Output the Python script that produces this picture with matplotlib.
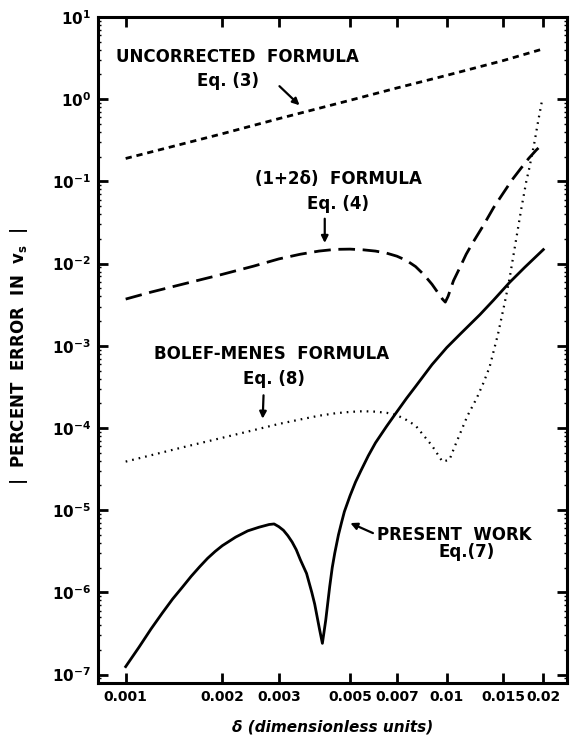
import matplotlib
matplotlib.use("Agg")
import matplotlib.pyplot as plt
from matplotlib.ticker import FixedLocator, FixedFormatter, LogLocator, NullFormatter

plt.rcParams['font.family'] = ['DejaVu Sans']
plt.rcParams['font.weight'] = 'bold'
plt.rcParams['lines.scale_dashes'] = False
plt.rcParams['mathtext.default'] = 'bf'

# ---- data ----
delta_uncorr = [0.001, 0.002, 0.003, 0.005, 0.007, 0.01, 0.015, 0.02]
err_uncorr = [0.19, 0.38, 0.58, 0.97, 1.37, 1.95, 2.95, 4.1]

delta_12d = [0.001, 0.0012, 0.0015, 0.002, 0.0025, 0.003, 0.0035, 0.004, 0.0045,
             0.005, 0.0055, 0.006, 0.0065, 0.007, 0.0075, 0.008, 0.0085, 0.009,
             0.0094, 0.0097, 0.0099, 0.0101, 0.0105, 0.011, 0.0115, 0.012, 0.013,
             0.014, 0.015, 0.016, 0.017, 0.018, 0.019, 0.02]
err_12d = [0.0037, 0.0045, 0.0056, 0.0074, 0.0093, 0.0114, 0.0130, 0.0142, 0.0149,
           0.0150, 0.0147, 0.0142, 0.0134, 0.0123, 0.0109, 0.0092, 0.0073, 0.0056,
           0.0044, 0.0037, 0.0034, 0.0040, 0.0062, 0.0090, 0.0130, 0.0174, 0.029,
           0.048, 0.072, 0.105, 0.143, 0.190, 0.24, 0.29]

delta_bm = [0.001, 0.0015, 0.002, 0.0025, 0.003, 0.0035, 0.004, 0.0045, 0.005,
            0.0055, 0.006, 0.0065, 0.007, 0.0075, 0.008, 0.0085, 0.009, 0.0094,
            0.0097, 0.0102, 0.0106, 0.011, 0.0116, 0.0124, 0.013, 0.0136, 0.01445,
            0.0152, 0.0157, 0.0161, 0.0165, 0.0171, 0.0177, 0.0181, 0.0188, 0.0192,
            0.0198]
err_bm = [3.9e-5, 5.8e-5, 7.6e-5, 9.4e-5, 1.12e-4, 1.27e-4, 1.41e-4, 1.51e-4, 1.57e-4,
          1.60e-4, 1.58e-4, 1.53e-4, 1.43e-4, 1.25e-4, 1.07e-4, 8.0e-5, 6.1e-5, 4.7e-5,
          3.9e-5, 4.1e-5, 6.0e-5, 8.5e-5, 1.4e-4, 2.3e-4, 3.5e-4, 5.5e-4, 1.39e-3,
          3.5e-3, 6.6e-3, 0.0119, 0.021, 0.048, 0.10, 0.147, 0.31, 0.50,
          0.95]

delta_pw = [0.001, 0.0011, 0.0012, 0.0013, 0.0014, 0.0015, 0.0016, 0.0017,
            0.0018, 0.0019, 0.002, 0.0022, 0.0024, 0.0026, 0.0028, 0.0029, 0.003,
            0.0031, 0.0032, 0.0033, 0.0034, 0.0035, 0.00366, 0.0038, 0.00388,
            0.00402, 0.0041, 0.0042, 0.00432, 0.0044, 0.00448, 0.0046, 0.0047,
            0.0048, 0.005, 0.0052, 0.0054, 0.0057, 0.006, 0.0065, 0.007, 0.0075,
            0.008, 0.009, 0.01, 0.011, 0.0127, 0.014, 0.0157, 0.0175, 0.02]
err_pw = [1.25e-7, 2.15e-7, 3.6e-7, 5.6e-7, 8.3e-7, 1.15e-6, 1.57e-6, 2.05e-6,
          2.6e-6, 3.15e-6, 3.7e-6, 4.7e-6, 5.6e-6, 6.2e-6, 6.7e-6, 6.8e-6, 6.3e-6,
          5.7e-6, 4.9e-6, 4.1e-6, 3.3e-6, 2.5e-6, 1.7e-6, 1.0e-6, 7.2e-7,
          3.5e-7, 2.4e-7, 4.6e-7, 1.17e-6, 2.0e-6, 3.0e-6, 5.0e-6, 7.0e-6,
          9.6e-6, 1.5e-5, 2.2e-5, 3.0e-5, 4.6e-5, 6.6e-5, 1.05e-4, 1.58e-4, 2.3e-4,
          3.2e-4, 5.9e-4, 9.5e-4, 1.38e-3, 2.4e-3, 3.6e-3, 5.9e-3, 9.0e-3, 0.0148]

xtick_vals = [0.001, 0.002, 0.003, 0.005, 0.007, 0.01, 0.015, 0.02]
xtick_labels = ['0.001', '0.002', '0.003', '0.005', '0.007', '0.01', '0.015', '0.02']
ytick_vals = [1e-7, 1e-6, 1e-5, 1e-4, 1e-3, 1e-2, 1e-1, 1e0, 1e1]
ytick_labels = [r'$10^{-7}$', r'$10^{-6}$', r'$10^{-5}$', r'$10^{-4}$', r'$10^{-3}$',
                r'$10^{-2}$', r'$10^{-1}$', r'$10^{0}$', r'$10^{1}$']

fig = plt.figure(figsize=(5.73, 7.37), dpi=100)
ax = fig.add_axes([98/573, 1-683/737, 469/573, 666/737])
ax.set_xscale('log')
ax.set_yscale('log')
ax.set_xlim(0.00082, 0.0237)
ax.set_ylim(7.9e-8, 10)

ax.plot(delta_uncorr, err_uncorr, color='black', lw=2.0, dashes=(4.5, 3.5))
ax.plot(delta_12d, err_12d, color='black', lw=2.0, dashes=(12, 5.5))
ax.plot(delta_bm, err_bm, color='black', lw=1.6, dashes=(1.2, 3.6))
ax.plot(delta_pw, err_pw, color='black', lw=2.0)

for s in ax.spines.values():
    s.set_linewidth(2.2)

ax.xaxis.set_major_locator(FixedLocator(xtick_vals))
ax.xaxis.set_major_formatter(FixedFormatter(xtick_labels))
ax.xaxis.set_minor_locator(FixedLocator([]))
ax.yaxis.set_major_locator(FixedLocator(ytick_vals))
ax.yaxis.set_major_formatter(FixedFormatter(ytick_labels))
ax.yaxis.set_minor_locator(LogLocator(base=10, subs=range(2, 10)))
ax.yaxis.set_minor_formatter(NullFormatter())
ax.tick_params(which='major', direction='in', length=7, width=2, top=True, right=True,
               pad=5)
ax.tick_params(axis='y', which='major', labelsize=11)
ax.tick_params(axis='x', which='major', labelsize=10)
ax.tick_params(which='minor', direction='in', length=2.5, width=1, right=True)

ax.set_xlabel('δ (dimensionless units)', fontsize=11, fontweight='bold', style='italic')
ax.xaxis.set_label_coords(0.5, -0.055)
ax.set_ylabel(r'|  PERCENT  ERROR  IN  $\mathbf{v_s}$  |', fontsize=12, fontweight='bold')
ax.yaxis.set_label_coords(-0.145, 0.49)

tk = dict(fontsize=12, fontweight='bold', ha='center', va='center')
ax.text(0.00223, 3.3, 'UNCORRECTED  FORMULA', **tk)
ax.text(0.00209, 1.65, 'Eq. (3)', **tk)
ax.annotate('', xy=(0.00353, 0.80), xytext=(0.00297, 1.52),
            arrowprops=dict(arrowstyle='-|>', color='black', lw=1.6, mutation_scale=10))

ax.text(0.00461, 0.107, '(1+2δ)  FORMULA', **tk)
ax.text(0.0046, 0.053, 'Eq. (4)', **tk)
ax.annotate('', xy=(0.00417, 0.0165), xytext=(0.00417, 0.038),
            arrowprops=dict(arrowstyle='-|>', color='black', lw=1.6, mutation_scale=10))

ax.text(0.00285, 8.0e-4, 'BOLEF-MENES  FORMULA', **tk)
ax.text(0.0029, 3.9e-4, 'Eq. (8)', **tk)
ax.annotate('', xy=(0.00267, 1.2e-4), xytext=(0.00269, 2.7e-4),
            arrowprops=dict(arrowstyle='-|>', color='black', lw=1.6, mutation_scale=10))

ax.text(0.00605, 5.0e-6, 'PRESENT  WORK', fontsize=12, fontweight='bold', ha='left', va='center')
ax.text(0.0115, 3.1e-6, 'Eq.(7)', **tk)
ax.annotate('', xy=(0.00492, 7.2e-6), xytext=(0.00600, 5.1e-6),
            arrowprops=dict(arrowstyle='-|>', color='black', lw=1.6, mutation_scale=10))

fig.savefig('out.png', dpi=100)
